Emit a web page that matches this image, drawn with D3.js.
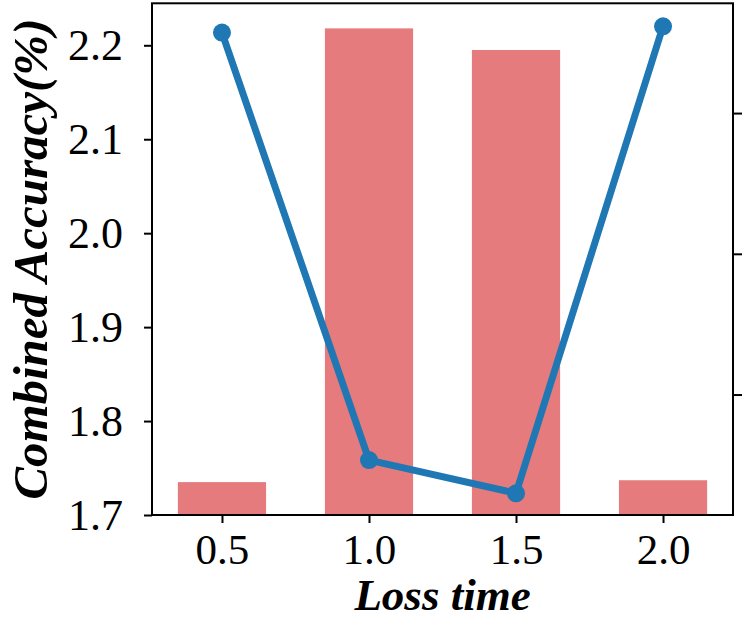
<!DOCTYPE html>
<html>
<head>
<meta charset="utf-8">
<script src="https://cdn.jsdelivr.net/npm/d3@7"></script>
<style>
  html, body { margin: 0; padding: 0; background: #fff; }
  svg { display: block; }
</style>
</head>
<body>
<svg id="chart" width="750" height="621"></svg>
<script>
// ---- data ----
const categories = [0.5, 1.0, 1.5, 2.0];
const barValues = [1.735, 2.218, 2.195, 1.737];
const lineValues = [2.2135, 1.7585, 1.7231, 2.2202];
const leftTicks = [1.7, 1.8, 1.9, 2.0, 2.1, 2.2];
const xTicks = [0.5, 1.0, 1.5, 2.0];
const rightTicks = [1, 2, 3];          // labels are cropped off in the reference
const leftDomain = [1.7, 2.2447];
const rightDomain = [0.144, 3.78];
const xDomain = [0.262, 2.238];
const barWidth = 0.3;
const yLabel = "Combined Accuracy(%)";
const xLabel = "Loss time";

// ---- layout ----
const svg = d3.select("#chart");
const mLeft = 152, mRight = 733, mTop = 3.3, mBottom = 515;

const x = d3.scaleLinear().domain(xDomain).range([mLeft, mRight]);
const y = d3.scaleLinear().domain(leftDomain).range([mBottom, mTop]);
const yR = d3.scaleLinear().domain(rightDomain).range([mBottom, mTop]);

const font = "'Liberation Serif', 'Times New Roman', serif";

// bars
svg.append("g").selectAll("rect").data(categories).join("rect")
  .attr("x", (d) => x(d - barWidth / 2))
  .attr("width", (d) => x(d + barWidth / 2) - x(d - barWidth / 2))
  .attr("y", (d, i) => y(barValues[i]))
  .attr("height", (d, i) => y(leftDomain[0]) - y(barValues[i]))
  .attr("fill", "#e57b7c");

// line
const pts = categories.map((c, i) => [c, lineValues[i]]);
svg.append("path")
  .datum(pts)
  .attr("fill", "none")
  .attr("stroke", "#1f77b4")
  .attr("stroke-width", 7)
  .attr("stroke-linejoin", "round")
  .attr("d", d3.line().x((d) => x(d[0])).y((d) => y(d[1])));
svg.append("g").selectAll("circle").data(pts).join("circle")
  .attr("cx", (d) => x(d[0]))
  .attr("cy", (d) => y(d[1]))
  .attr("r", 9)
  .attr("fill", "#1f77b4");

// frame
svg.append("rect")
  .attr("x", mLeft).attr("y", mTop)
  .attr("width", mRight - mLeft).attr("height", mBottom - mTop)
  .attr("fill", "none").attr("stroke", "#000").attr("stroke-width", 2);

// axes
const gL = svg.append("g").attr("transform", `translate(${mLeft},0)`)
  .call(d3.axisLeft(y).tickValues(leftTicks).tickFormat(d3.format(".1f")).tickSizeOuter(0).tickSize(8).tickPadding(21));
const gB = svg.append("g").attr("transform", `translate(0,${mBottom})`)
  .call(d3.axisBottom(x).tickValues(xTicks).tickFormat(d3.format(".1f")).tickSizeOuter(0).tickSize(8).tickPadding(10));
const gR = svg.append("g").attr("transform", `translate(${mRight},0)`)
  .call(d3.axisRight(yR).tickValues(rightTicks).tickFormat(() => "").tickSizeOuter(0).tickSize(9));

[gL, gB, gR].forEach((g) => {
  g.select(".domain").remove();
  g.selectAll(".tick line").attr("stroke", "#000").attr("stroke-width", 2);
  g.selectAll(".tick text")
    .attr("fill", "#000")
    .style("font-family", font)
    .style("font-size", "44px");
});
gB.selectAll(".tick text").style("font-size", "43px");

// axis titles
svg.append("text")
  .attr("transform", `translate(47,${(mTop + mBottom) / 2}) rotate(-90)`)
  .attr("text-anchor", "middle")
  .style("font-family", font)
  .style("font-size", "49px")
  .style("font-weight", "bold")
  .style("font-style", "italic")
  .text(yLabel);

svg.append("text")
  .attr("x", (mLeft + mRight) / 2)
  .attr("y", 610)
  .attr("text-anchor", "middle")
  .style("font-family", font)
  .style("font-size", "45px")
  .style("font-weight", "bold")
  .style("font-style", "italic")
  .text(xLabel);
</script>
</body>
</html>
